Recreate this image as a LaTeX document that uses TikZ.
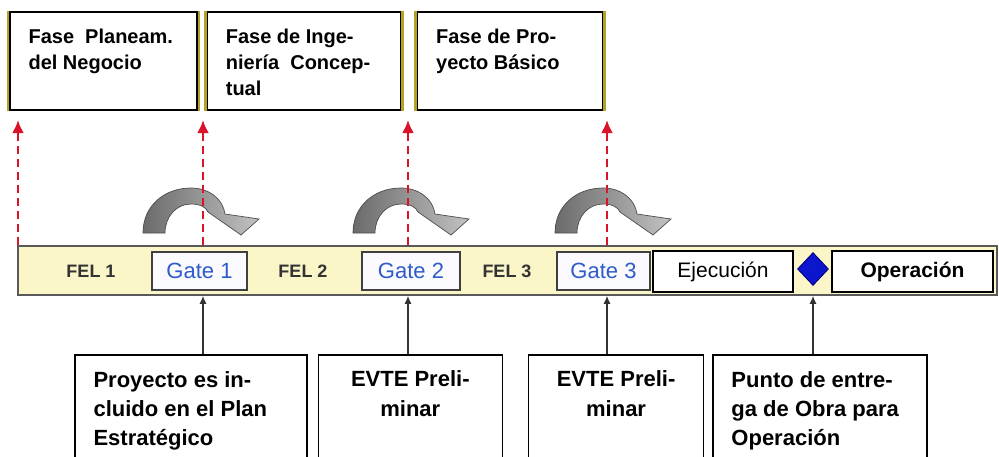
\documentclass[tikz,border=0pt]{standalone}
\usepackage{fontspec}
\setmainfont{Liberation Sans}
\usetikzlibrary{positioning,shapes.geometric,arrows.meta}
\definecolor{felyellow}{RGB}{250,246,200}
\definecolor{gateblue}{RGB}{46,91,200}
\definecolor{markred}{RGB}{218,18,42}
\definecolor{stripolive}{RGB}{178,162,40}
\definecolor{hitoblue}{RGB}{12,22,205}
\tikzset{
  gatearc/.pic={
    \draw[draw=black!70, line width=0.7pt, left color=black!58, right color=black!24]
      (-48,0) .. controls (-48,-27) and (-27,-45) .. (0,-45)
      .. controls (18,-45) and (32,-34) .. (34,-19)
      -- (68,-14) -- (50,2) -- (17,-21)
      .. controls (15,-26) and (9,-29) .. (0,-29)
      .. controls (-15,-29) and (-26,-16) .. (-26,0) -- cycle;
  }
}
\begin{document}
\begin{tikzpicture}[x=1pt, y=-1pt,
    phase/.style={draw, line width=1.3pt, fill=white, minimum height=98pt, inner sep=0pt},
    phasetxt/.style={inner sep=0pt, align=left, font=\fontsize{20}{26}\selectfont\bfseries},
    strip/.style={draw=stripolive, line width=2.5pt},
    fel/.style={font=\fontsize{18}{20}\selectfont\bfseries, text=black!80},
    gate/.style={draw=black!75, line width=1.5pt, fill=blue!2, minimum height=38pt, inner sep=0pt,
                 font=\fontsize{22}{24}\selectfont, text=gateblue},
    stage/.style={draw, line width=1.2pt, fill=white, minimum height=41pt, inner sep=0pt},
    milestone/.style={draw, line width=1.3pt, minimum height=115pt, inner sep=0pt},
    mstxt/.style={inner sep=0pt, font=\fontsize{22}{29}\selectfont\bfseries},
    marker/.style={draw=markred, line width=2.8pt, dash pattern=on 8pt off 5pt,
                   -{Latex[length=13pt, width=12pt]}},
    uparr/.style={draw=black!80, line width=1.4pt, -{Latex[length=8pt, width=7pt]}}]
  \useasboundingbox (0,0) rectangle (999,456);

  % phases on top
  \node[phase, minimum width=187pt] (ph1) at (103.5,61) {};
  \node[phase, minimum width=193pt, right=9pt of ph1] (ph2) {};
  \node[phase, minimum width=185pt, right=16pt of ph2] (ph3) {};
  \foreach \p in {ph1,ph2,ph3} {
    \draw[strip] ([xshift=-1.3pt]\p.north west) -- ([xshift=-1.3pt]\p.south west);
    \draw[strip] ([xshift=1.3pt]\p.north east) -- ([xshift=1.3pt]\p.south east);
  }
  \node[phasetxt, below right=17pt and 19pt of ph1.north west] (ph1t) {Fase\ \ Planeam.\\del Negocio};
  \node[phasetxt, below right=17pt and 19pt of ph2.north west] (ph2t) {Fase de Inge-\\nier\'ia\ \ Concep-\\tual};
  \node[phasetxt, below right=17pt and 19pt of ph3.north west] (ph3t) {Fase de Pro-\\yecto B\'asico};

  % FEL bar
  \node[draw=black!65, line width=1.5pt, fill=felyellow, minimum width=979pt, minimum height=49pt] (bar) at (507.5,270.5) {};
  \node[fel] (fel1) at (91,271) {FEL 1};
  \node[fel] (fel2) at (303,271) {FEL 2};
  \node[fel] (fel3) at (507,271) {FEL 3};
  \node[gate, minimum width=95pt] (gate1) at (199.5,271) {Gate 1};
  \node[gate, minimum width=98pt] (gate2) at (411,271) {Gate 2};
  \node[gate, minimum width=93pt] (gate3) at (603.5,271) {Gate 3};
  \node[stage, minimum width=140pt, font=\fontsize{21}{23}\selectfont] (exec) at (723,271.5) {Ejecuci\'on};
  \node[diamond, fill=hitoblue, draw=blue!45!black, line width=0.8pt, minimum width=31pt, minimum height=33pt, inner sep=0pt] (hito) at (813,269) {};
  \node[stage, minimum width=161pt, font=\fontsize{21}{23}\selectfont\bfseries] (oper) at (912.5,271.5) {Operaci\'on};

  % gate arrows
  \pic at (191,233) {gatearc};
  \pic at (401,233) {gatearc};
  \pic at (603,233) {gatearc};

  % red markers
  \coordinate (t0) at (18,120);
  \coordinate (t1) at (203,120);
  \coordinate (t2) at (408,120);
  \coordinate (t3) at (607,120);
  \foreach \t in {t0,t1,t2,t3}
    \draw[marker] (\t |- bar.north) -- (\t);

  % milestones below
  \node[milestone, minimum width=232pt] (ms1) at (191,412.5) {};
  \node[milestone, minimum width=184pt, right=10pt of ms1] (ms2) {};
  \node[milestone, minimum width=175pt, right=25pt of ms2] (ms3) {};
  \node[milestone, minimum width=214pt, right=8pt of ms3] (ms4) {};
  \node[mstxt, align=left, below right=16.5pt and 19pt of ms1.north west] (ms1t) {Proyecto es in-\\cluido en el Plan\\Estrat\'egico};
  \node[mstxt, align=center, below=16.5pt of ms2.north] (ms2t) {EVTE Preli-\\minar};
  \node[mstxt, align=center, below=16.5pt of ms3.north] (ms3t) {EVTE Preli-\\minar};
  \node[mstxt, align=left, below right=16.5pt and 19pt of ms4.north west] (ms4t) {Punto de entre-\\ga de Obra para\\Operaci\'on};
  \draw[uparr] (ms1.north -| t1) -- (bar.south -| t1);
  \draw[uparr] (ms2.north -| t2) -- (bar.south -| t2);
  \draw[uparr] (ms3.north -| t3) -- (bar.south -| t3);
  \draw[uparr] (ms4.north -| hito) -- (bar.south -| hito);
\end{tikzpicture}
\end{document}
